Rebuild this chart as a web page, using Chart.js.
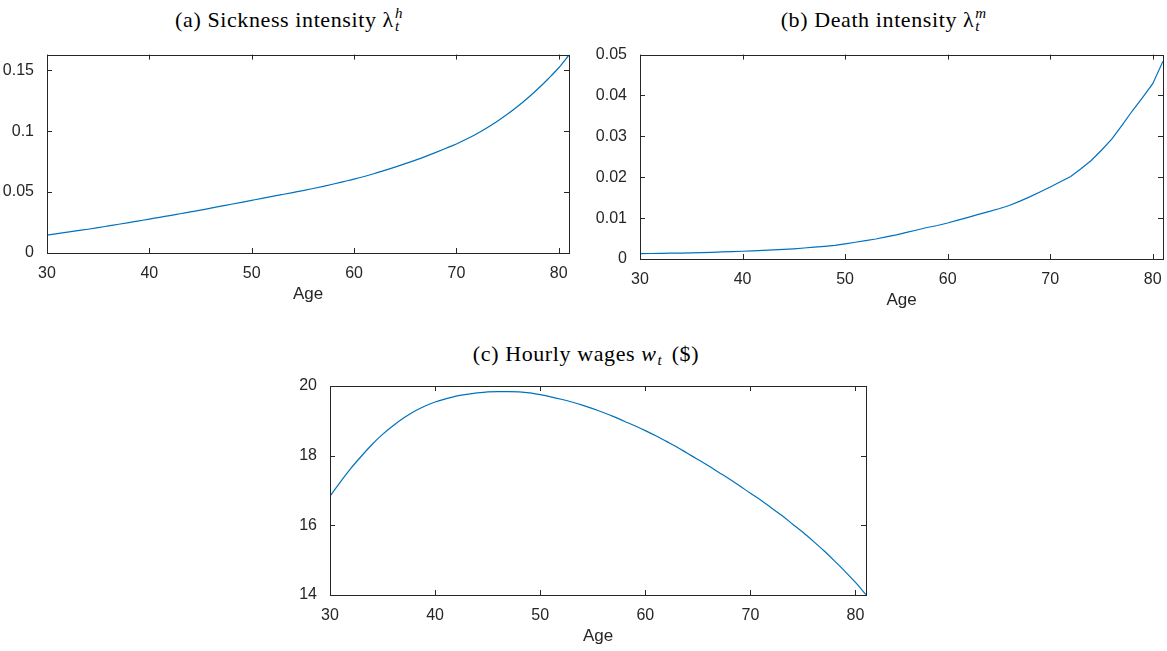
<!DOCTYPE html>
<html>
<head>
<meta charset="utf-8">
<script src="https://cdn.jsdelivr.net/npm/chart.js@4"></script>
<style>
  body { margin: 0; background: #fff; width: 1167px; height: 651px; position: relative; overflow: hidden; }
  canvas { position: absolute; }
  .ttl { position: absolute; font-family: "Liberation Serif", serif; font-size: 22px; letter-spacing: 0.6px; color: #000; white-space: nowrap; transform: translateX(-50%); line-height: 1; }
  .ttl i { font-style: italic; }
  .ss { display: inline-block; position: relative; width: 13px; height: 0; }
  .ss span { position: absolute; left: 1px; font-size: 15px; line-height: 1; font-style: italic; letter-spacing: 0; }
  .ss .up { bottom: 6px; }
  .ss .dn { bottom: -7px; }
</style>
</head>
<body>
<div class="ttl" style="left:291px; top:9px;">(a) Sickness intensity λ<span class="ss"><span class="up">h</span><span class="dn">t</span></span></div>
<div class="ttl" style="left:884px; top:9px;">(b) Death intensity λ<span class="ss"><span class="up">m</span><span class="dn">t</span></span></div>
<div class="ttl" style="left:586px; top:343px;">(c) Hourly wages <i>w</i><span class="ss" style="width:9px;"><span class="dn">t</span></span> ($)</div>

<canvas id="chartA" width="580" height="265" style="left:0px; top:40px;"></canvas>
<canvas id="chartB" width="577" height="271" style="left:590px; top:40px;"></canvas>
<canvas id="chartC" width="600" height="277" style="left:280px; top:370px;"></canvas>

<script>
// ages 30..81
var ages = [30,31,32,33,34,35,36,37,38,39,40,41,42,43,44,45,46,47,48,49,50,51,52,53,54,55,
            56,57,58,59,60,61,62,63,64,65,66,67,68,69,70,71,72,73,74,75,76,77,78,79,80,81];

var sickness = [.0147,.0159,.0171,.0183,.0195,.0208,.0222,.0236,.0250,.0264,.0278,.0293,.0307,.0322,.0337,.0352,
                .0368,.0384,.0400,.0416,.0432,.0448,.0464,.0480,.0496,.0512,.0529,.0547,.0566,.0586,.0606,.0628,
                .0652,.0678,.0705,.0733,.0762,.0793,.0826,.0860,.0895,.0935,.0979,.1028,.1081,.1140,.1204,.1274,
                .1350,.1432,.1520,.1625];

var death = [.0013,.00134,.00138,.00142,.00146,.0015,.00157,.00164,.00172,.00181,.0019,.0020,.00211,.00223,.00236,.0025,
             .00269,.00289,.0031,.00335,.0037,.0041,.0045,.0049,.0054,.0059,.0065,.0071,.0077,.0082,.0088,.0095,
             .0102,.0109,.0116,.0123,.0131,.0141,.0152,.0164,.0176,.0189,.0202,.0221,.0241,.0266,.0293,.0327,
             .0362,.0395,.0429,.0484];

var wages = [16.84,17.25,17.64,17.99,18.32,18.61,18.86,19.08,19.27,19.42,19.54,19.63,19.71,19.76,19.80,19.83,
             19.84,19.84,19.83,19.80,19.75,19.69,19.62,19.54,19.45,19.35,19.24,19.12,18.99,18.86,18.72,18.57,
             18.41,18.25,18.07,17.89,17.71,17.52,17.33,17.13,16.92,16.72,16.50,16.28,16.04,15.80,15.54,15.27,
             14.98,14.68,14.36,14.01];

var ageTicks = [30,40,50,60,70,80];
var sickTicks = [0,0.05,0.1,0.15];
var deathTicks = [0,0.01,0.02,0.03,0.04,0.05];
var wageTicks = [14,16,18,20];

var axisColor = '#262626';
var lineColor = '#0072BD';

// MATLAB-style box with inward ticks
var frame = {
  id: 'frame',
  afterDraw: function(chart) {
    var ctx = chart.ctx, a = chart.chartArea, x = chart.scales.x, y = chart.scales.y;
    ctx.save();
    ctx.strokeStyle = axisColor;
    ctx.lineWidth = 1;
    ctx.beginPath();
    x.ticks.forEach(function(t) {
      var px = Math.round(x.getPixelForValue(t.value)) + 0.5;
      ctx.moveTo(px, a.bottom); ctx.lineTo(px, a.bottom - 5);
      ctx.moveTo(px, a.top); ctx.lineTo(px, a.top + 5);
    });
    y.ticks.forEach(function(t) {
      var py = Math.round(y.getPixelForValue(t.value)) + 0.5;
      ctx.moveTo(a.left, py); ctx.lineTo(a.left + 5, py);
      ctx.moveTo(a.right, py); ctx.lineTo(a.right - 5, py);
    });
    ctx.stroke();
    ctx.strokeRect(Math.round(a.left) + 0.5, Math.round(a.top) + 0.5,
                   Math.round(a.right - a.left), Math.round(a.bottom - a.top));
    ctx.restore();
  }
};

function makeChart(id, values, yMin, yMax, yTicks, yWidth, pad, interp) {
  return new Chart(document.getElementById(id), {
    type: 'line',
    data: {
      datasets: [{
        data: ages.map(function(a, i) { return {x: a, y: values[i]}; }),
        borderColor: lineColor,
        borderWidth: 1.2,
        pointRadius: 0,
        fill: false,
        cubicInterpolationMode: interp
      }]
    },
    options: {
      responsive: false,
      animation: false,
      layout: { padding: pad },
      plugins: { legend: { display: false }, tooltip: { enabled: false } },
      scales: {
        x: {
          type: 'linear', min: 30, max: 81,
          grid: { display: false }, border: { display: false },
          afterBuildTicks: function(s) { s.ticks = ageTicks.map(function(v) { return {value: v}; }); },
          afterFit: function(s) { s.height = 52; },
          ticks: { color: axisColor, padding: 3, maxRotation: 0,
                   font: { family: 'Liberation Sans', size: 16 } },
          title: { display: true, text: 'Age', color: axisColor, padding: { top: 0, bottom: 0 },
                   font: { family: 'Liberation Sans', size: 17 } }
        },
        y: {
          min: yMin, max: yMax,
          grid: { display: false }, border: { display: false },
          afterBuildTicks: function(s) { s.ticks = yTicks.map(function(v) { return {value: v}; }); },
          afterFit: function(s) { s.width = yWidth; },
          ticks: { color: axisColor, padding: 5,
                   font: { family: 'Liberation Sans', size: 16 },
                   callback: function(v) { return String(+v.toFixed(4)); } }
        }
      }
    },
    plugins: [frame]
  });
}

makeChart('chartA', sickness, 0, 0.1628, sickTicks, 47, { top: 9, right: 11, left: 0, bottom: 0 }, 'monotone');
makeChart('chartB', death, 0, 0.05, deathTicks, 50, { top: 14, right: 4, left: 0, bottom: 0 }, 'default');
makeChart('chartC', wages, 14, 20, wageTicks, 50, { top: 16, right: 14, left: 0, bottom: 0 }, 'monotone');
</script>
</body>
</html>
